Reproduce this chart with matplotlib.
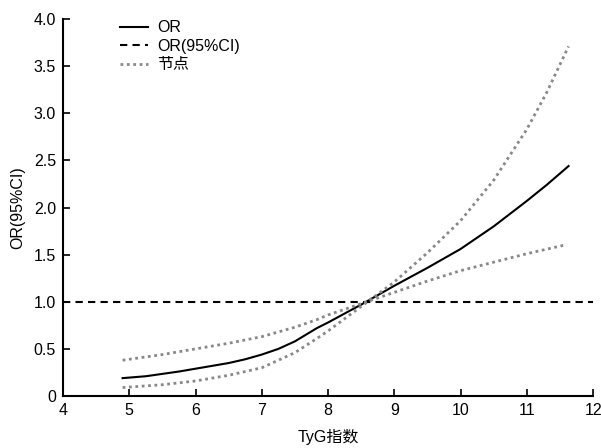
import matplotlib
matplotlib.use('Agg')
import matplotlib.pyplot as plt
from matplotlib.ticker import FuncFormatter

plt.rcParams['font.family'] = ['Liberation Sans', 'Noto Sans CJK SC', 'DejaVu Sans']

# OR curve (solid)
x_or = [4.9, 5.25, 5.5, 5.75, 6.0, 6.25, 6.5, 6.75, 7.0, 7.25, 7.5, 7.83, 8.0, 8.25, 8.5, 8.75, 9.0,
        9.5, 10.0, 10.5, 11.0, 11.3, 11.63]
or_vals = [0.19, 0.21, 0.235, 0.26, 0.29, 0.32, 0.35, 0.39, 0.44, 0.50, 0.58, 0.72, 0.78, 0.875, 0.97,
           1.07, 1.17, 1.36, 1.56, 1.80, 2.07, 2.24, 2.44]

# confidence band (dotted grey), two curves crossing near 8.6
x_ci1 = [4.9, 5.5, 6.0, 6.5, 7.0, 7.5, 7.83, 8.0, 8.5, 9.0, 9.5, 10.0, 10.5, 11.0, 11.3, 11.63]
ci1 = [0.09, 0.12, 0.16, 0.22, 0.30, 0.46, 0.61, 0.69, 0.95, 1.21, 1.52, 1.86, 2.29, 2.83, 3.22, 3.71]
x_ci2 = [4.9, 5.5, 6.0, 6.5, 7.0, 7.5, 7.83, 8.0, 8.5, 9.0, 9.5, 10.0, 10.5, 11.0, 11.56]
ci2 = [0.38, 0.44, 0.50, 0.56, 0.63, 0.73, 0.81, 0.86, 0.98, 1.10, 1.22, 1.33, 1.42, 1.51, 1.60]

ref_line = 1.0

fig = plt.figure(figsize=(6.01, 4.48), dpi=100)
ax = fig.add_axes([0.1048, 0.116, 0.882, 0.8415])

ax.plot(x_or, or_vals, color='black', lw=1.5, label='OR')
ax.axhline(ref_line, color='black', lw=1.5, linestyle=(0, (3.5, 2.5)), label='OR(95%CI)')
ax.plot(x_ci1, ci1, color='#888888', lw=2, linestyle=(0, (1, 1.3)), label='节点')
ax.plot(x_ci2, ci2, color='#888888', lw=2, linestyle=(0, (1, 1.3)))

ax.set_xlim(4, 12)
ax.set_ylim(0, 4.0)
ax.set_xticks(range(4, 13))
ax.set_yticks([0, 0.5, 1.0, 1.5, 2.0, 2.5, 3.0, 3.5, 4.0])
ax.yaxis.set_major_formatter(FuncFormatter(lambda v, p: '0' if v == 0 else f'{v:.1f}'))

for s in ['top', 'right']:
    ax.spines[s].set_visible(False)
for s in ['left', 'bottom']:
    ax.spines[s].set_linewidth(1.5)
ax.tick_params(direction='in', length=5, width=1.2, labelsize=11.5, pad=5)

ax.set_xlabel('TyG指数', fontsize=11.5, labelpad=8)
ax.set_ylabel('OR(95%CI)', fontsize=11.5, labelpad=6)

ax.legend(loc='upper left', bbox_to_anchor=(0.08, 1.035), frameon=False, fontsize=11.5,
          handlelength=1.75, handletextpad=0.6, labelspacing=0.22)

fig.savefig('out.png', dpi=100)
